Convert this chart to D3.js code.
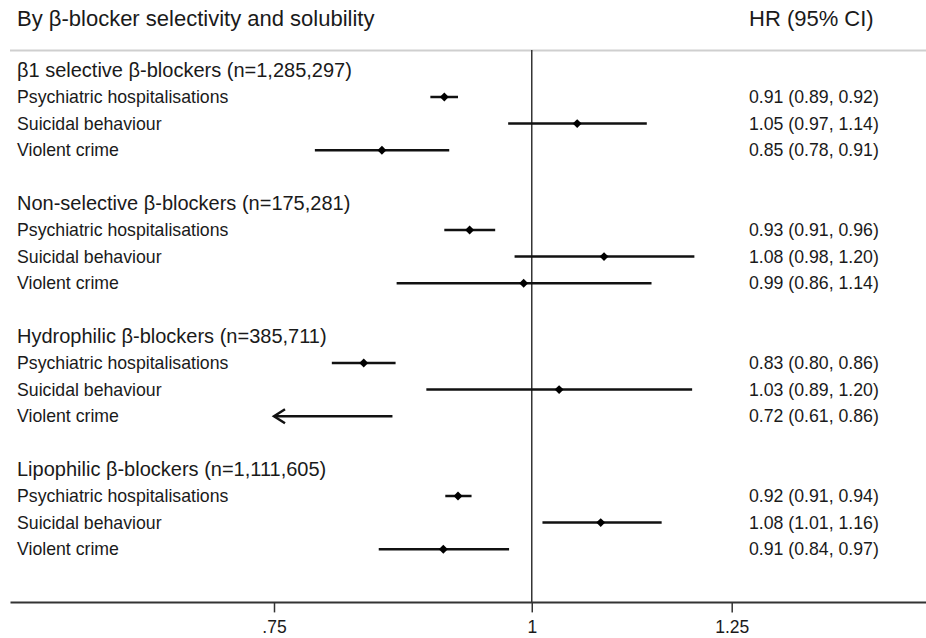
<!DOCTYPE html>
<html>
<head>
<meta charset="utf-8">
<script src="https://cdn.jsdelivr.net/npm/d3@7"></script>
<style>
  body { margin: 0; background: #fff; }
  svg { font-family: 'Liberation Sans', Arial, sans-serif; }
</style>
</head>
<body>
<div class="svgcontainer"></div>
<script>
// data
const groups = [
  'β1 selective β-blockers (n=1,285,297)',
  'Non-selective β-blockers (n=175,281)',
  'Hydrophilic β-blockers (n=385,711)',
  'Lipophilic β-blockers (n=1,111,605)',
];
const outcomes = ['Psychiatric hospitalisations', 'Suicidal behaviour', 'Violent crime'];
const hr = [
  [0.907, 1.052, 0.846],
  [0.933, 1.084, 0.991],
  [0.829, 1.031, 0.72],
  [0.921, 1.080, 0.906],
];
const lo = [
  [0.893, 0.974, 0.785],
  [0.907, 0.981, 0.860],
  [0.800, 0.889, 0.61],
  [0.908, 1.012, 0.843],
];
const hi = [
  [0.921, 1.137, 0.912],
  [0.960, 1.199, 1.143],
  [0.859, 1.196, 0.856],
  [0.935, 1.156, 0.975],
];
const hrLabels = [
  ['0.91 (0.89, 0.92)', '1.05 (0.97, 1.14)', '0.85 (0.78, 0.91)'],
  ['0.93 (0.91, 0.96)', '1.08 (0.98, 1.20)', '0.99 (0.86, 1.14)'],
  ['0.83 (0.80, 0.86)', '1.03 (0.89, 1.20)', '0.72 (0.61, 0.86)'],
  ['0.92 (0.91, 0.94)', '1.08 (1.01, 1.16)', '0.91 (0.84, 0.97)'],
];
const tickValues = [0.75, 1, 1.25];
const tickLabels = ['.75', '1', '1.25'];

const W = 926;
const H = 638;
const ink = '#1a1a1a';

const svg = d3
  .select('.svgcontainer')
  .append('svg')
  .attr('width', W)
  .attr('height', H);

const x = d3.scaleLog().domain([0.75, 1.25]).range([274, 731.7]);
// one slot per text row, axis sits on slot 20
const y = d3.scaleLinear().domain([0, 20]).range([70.4, 602.4]);
const axisY = y(20);
const labelX = 17;
const hrX = 749;

// header
svg.append('text')
  .attr('x', labelX)
  .attr('y', 18)
  .attr('dy', '0.35em')
  .attr('fill', ink)
  .style('font-size', '22px')
  .text('By β-blocker selectivity and solubility');

svg.append('text')
  .attr('x', hrX)
  .attr('y', 18)
  .attr('dy', '0.35em')
  .attr('fill', ink)
  .style('font-size', '22px')
  .text('HR (95% CI)');

svg.append('line')
  .attr('x1', 10)
  .attr('x2', W)
  .attr('y1', 50.5)
  .attr('y2', 50.5)
  .attr('stroke', '#cfcfcf')
  .attr('stroke-width', 2);

// reference line at HR = 1
svg.append('line')
  .attr('x1', x(1))
  .attr('x2', x(1))
  .attr('y1', 50)
  .attr('y2', axisY)
  .attr('stroke', '#333')
  .attr('stroke-width', 1.5);

// build rows
const rows = [];
groups.forEach(function(gname, gi) {
  const base = gi * 5;
  rows.push({type: 'title', idx: base, label: gname});
  outcomes.forEach(function(o, oi) {
    rows.push({
      type: 'est',
      idx: base + 1 + oi,
      label: o,
      hr: hr[gi][oi],
      lo: lo[gi][oi],
      hi: hi[gi][oi],
      txt: hrLabels[gi][oi],
    });
  });
});

svg.append('g')
  .selectAll('text')
  .data(rows)
  .enter()
  .append('text')
  .attr('x', labelX)
  .attr('y', d => y(d.idx))
  .attr('dy', '0.35em')
  .attr('fill', ink)
  .style('font-size', d => (d.type == 'title' ? '20px' : '17.7px'))
  .text(d => d.label);

const est = rows.filter(d => d.type == 'est');

svg.append('g')
  .selectAll('text')
  .data(est)
  .enter()
  .append('text')
  .attr('x', hrX)
  .attr('y', d => y(d.idx))
  .attr('dy', '0.35em')
  .attr('fill', ink)
  .style('font-size', '17.7px')
  .text(d => d.txt);

const dmin = x.domain()[0];
const dmax = x.domain()[1];

const ci = svg.append('g')
  .selectAll('g')
  .data(est)
  .enter()
  .append('g');

ci.append('line')
  .attr('x1', d => x(Math.max(d.lo, dmin)))
  .attr('x2', d => x(Math.min(d.hi, dmax)))
  .attr('y1', d => y(d.idx))
  .attr('y2', d => y(d.idx))
  .attr('stroke', '#111')
  .attr('stroke-width', 2.5);

// open arrow where the interval runs off the left end
ci.filter(d => d.lo < dmin)
  .append('path')
  .attr('d', function(d) {
    const x0 = x(dmin);
    const yy = y(d.idx);
    return `M${x0 + 11},${yy - 7}L${x0},${yy}L${x0 + 11},${yy + 7}`;
  })
  .attr('fill', 'none')
  .attr('stroke', '#111')
  .attr('stroke-width', 2.5);

ci.filter(d => d.hr >= dmin && d.hr <= dmax)
  .append('path')
  .attr('d', d3.symbol().type(d3.symbolSquare).size(40))
  .attr('transform', d => `translate(${x(d.hr)},${y(d.idx)}) rotate(45)`)
  .attr('fill', '#000');

// x axis
svg.append('line')
  .attr('x1', 10.5)
  .attr('x2', W)
  .attr('y1', axisY)
  .attr('y2', axisY)
  .attr('stroke', '#333')
  .attr('stroke-width', 2);

const axis = svg.append('g')
  .attr('transform', `translate(0,${axisY})`)
  .call(
    d3.axisBottom(x)
      .tickValues(tickValues)
      .tickFormat((d, i) => tickLabels[i])
      .tickSize(10)
      .tickPadding(8),
  );

axis.select('.domain').remove();
axis.selectAll('.tick line').attr('stroke', '#333').attr('stroke-width', 1.5);
axis.selectAll('.tick text')
  .attr('fill', ink)
  .style('font-family', "'Liberation Sans', Arial, sans-serif")
  .style('font-size', '17.5px');
</script>
</body>
</html>
